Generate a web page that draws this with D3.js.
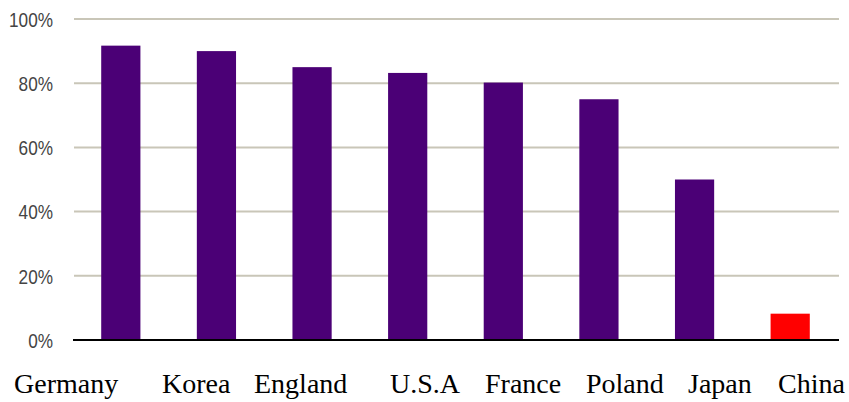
<!DOCTYPE html>
<html>
<head>
<meta charset="utf-8">
<script src="https://cdn.jsdelivr.net/npm/d3@7"></script>
<style>
  html, body { margin: 0; padding: 0; background: #fff; }
  svg { display: block; }
</style>
</head>
<body>
<svg id="chart" width="849" height="402"></svg>
<script>
// Share of each country (percent)
const countries = ["Germany", "Korea", "England", "U.S.A", "France", "Poland", "Japan", "China"];
const shares = [91.7, 90, 85, 83.2, 80.2, 75, 50, 8.2];
const yTicks = [0, 20, 40, 60, 80, 100];

const highlight = "China";
const colorMain = "#4b0076";
const colorHighlight = "#ff0000";

const svg = d3.select("#chart");
const plot = { left: 73, right: 838, top: 19, bottom: 340 };

const x = d3.scaleBand()
  .domain(countries)
  .range([plot.left, plot.right])
  .paddingInner(0.59)
  .paddingOuter(0.295);

const y = d3.scaleLinear().domain([0, 100]).range([plot.bottom, plot.top]);

// Horizontal gridlines
svg.append("g")
  .selectAll("line")
  .data(yTicks.filter(t => t > 0))
  .join("line")
  .attr("x1", plot.left + 1).attr("x2", plot.right + 1)
  .attr("y1", d => y(d)).attr("y2", d => y(d))
  .attr("stroke", "#c9c6b8")
  .attr("stroke-width", 2);

// Y axis tick labels (narrowed sans)
const yAxis = d3.axisLeft(y)
  .tickValues(yTicks)
  .tickSize(0)
  .tickPadding(0)
  .tickFormat(d => d + "%");

const gy = svg.append("g")
  .attr("transform", "translate(53,0)")
  .call(yAxis);
gy.select(".domain").remove();
gy.selectAll("text")
  .attr("fill", "#444")
  .attr("dy", "0.36em")
  .attr("transform", "scale(0.86,1)")
  .style("font-family", "'Liberation Sans', Arial, sans-serif")
  .style("font-size", "20px");

// Bars
svg.append("g")
  .selectAll("rect")
  .data(countries.map((c, i) => ({ c, v: shares[i] })))
  .join("rect")
  .attr("x", d => x(d.c))
  .attr("width", x.bandwidth())
  .attr("y", d => y(d.v))
  .attr("height", d => y(0) - y(d.v))
  .attr("fill", d => d.c === highlight ? colorHighlight : colorMain);

// Baseline
svg.append("line")
  .attr("x1", plot.left).attr("x2", plot.right + 1)
  .attr("y1", y(0)).attr("y2", y(0))
  .attr("stroke", "#000")
  .attr("stroke-width", 2);

// Country names set as a caption line beneath the chart
const labelStarts = [14, 162, 254, 390, 485, 586, 688, 778];
svg.append("g")
  .selectAll("text")
  .data(countries)
  .join("text")
  .attr("x", (d, i) => labelStarts[i])
  .attr("y", 393)
  .attr("text-anchor", "start")
  .attr("fill", "#000")
  .style("font-family", "'Liberation Serif', 'Times New Roman', serif")
  .style("font-size", "28px")
  .text(d => d);
</script>
</body>
</html>
